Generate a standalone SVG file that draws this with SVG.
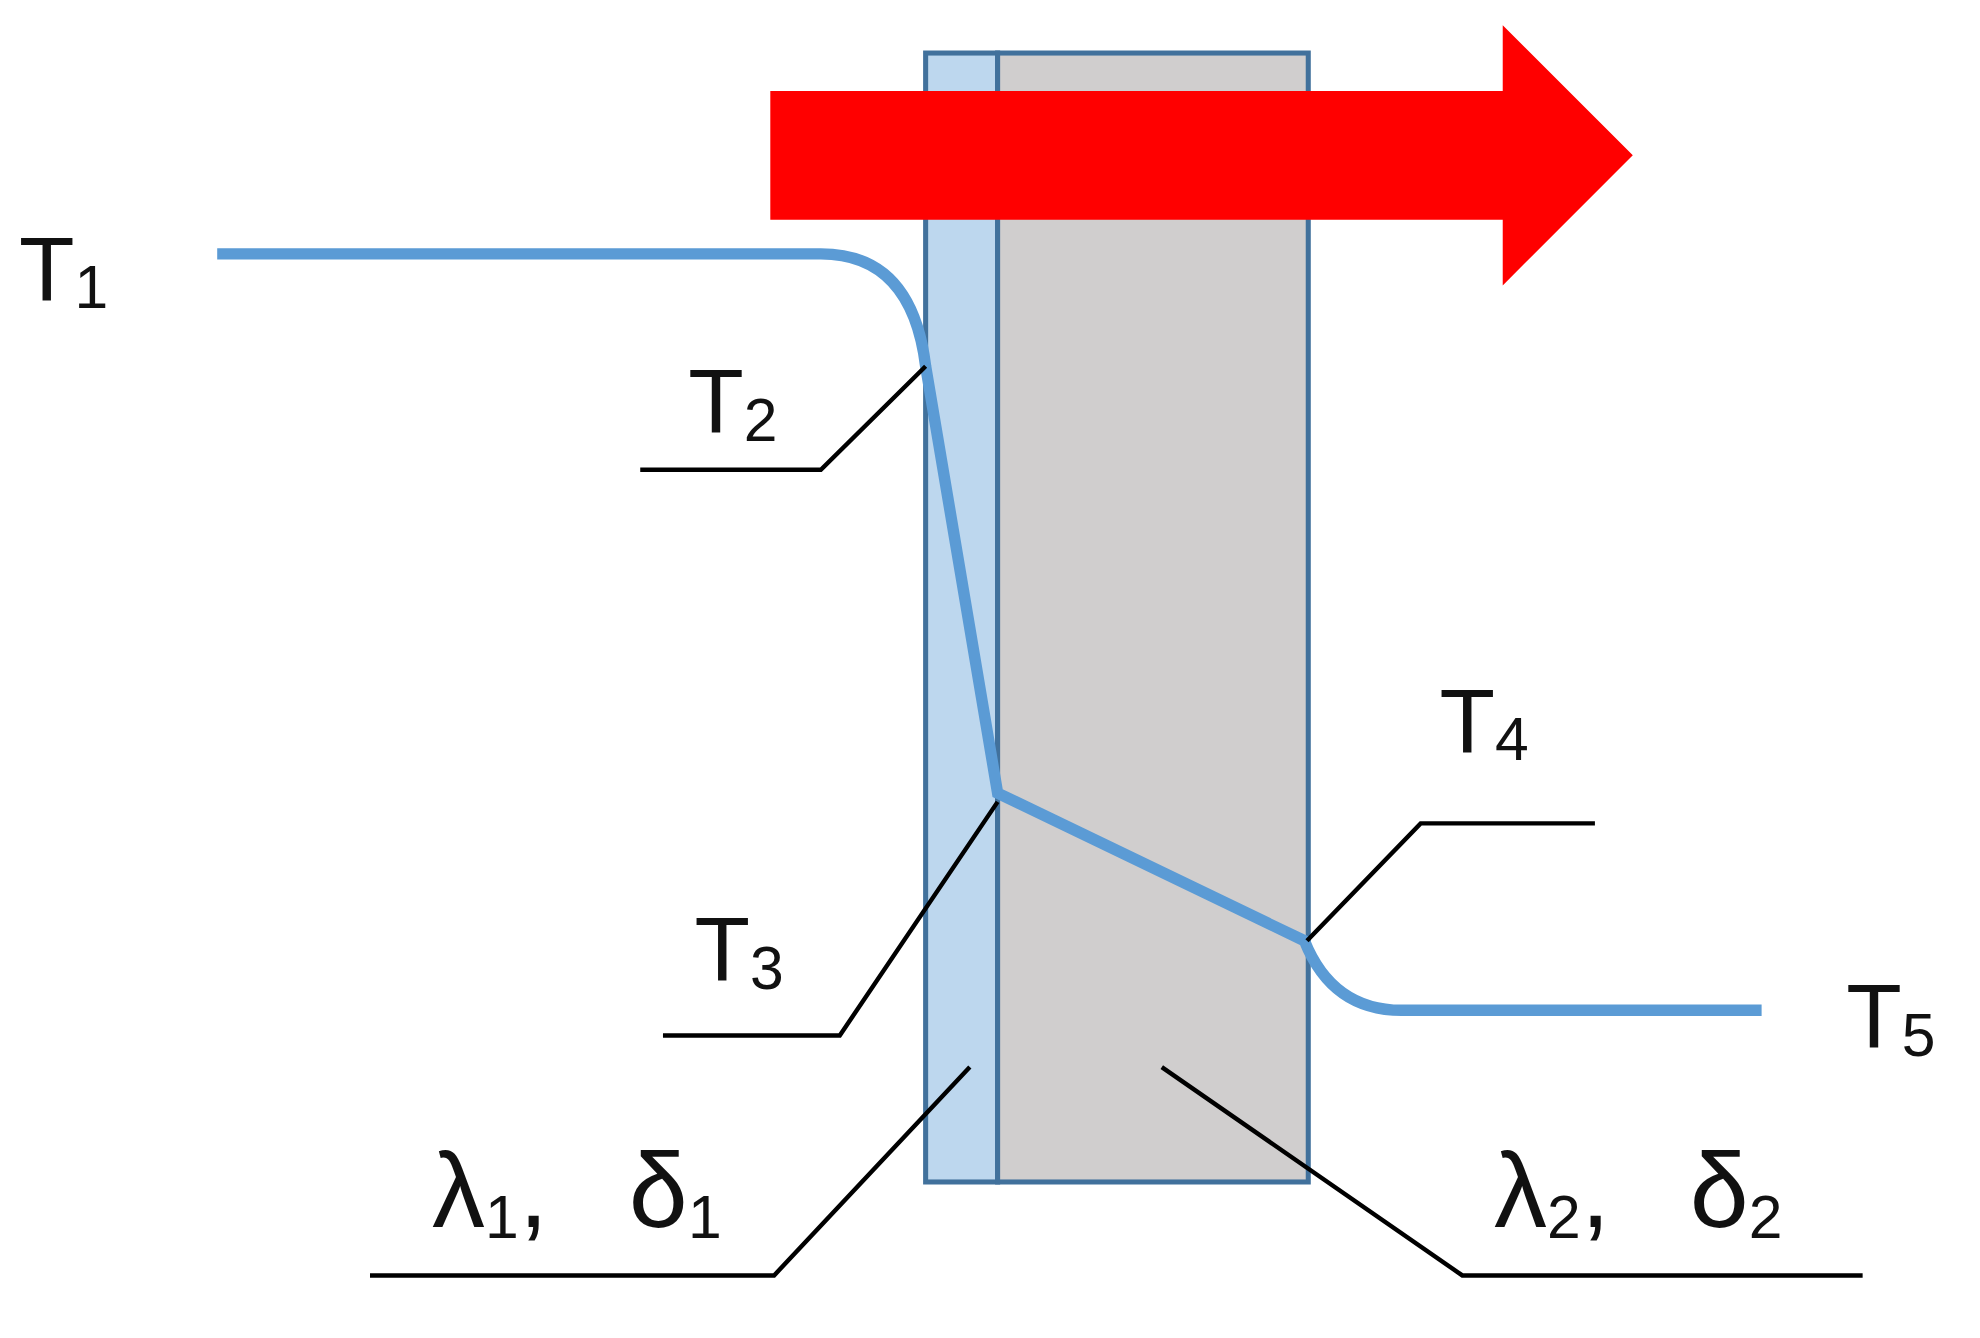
<svg xmlns="http://www.w3.org/2000/svg" width="1980" height="1338" viewBox="0 0 1980 1338">
<style>
.lbl{font-family:"Liberation Sans",sans-serif;font-size:72px;fill:#111}
.gk{font-size:84px}
.sub{font-size:48px}
.lead{fill:none;stroke:#000;stroke-width:3.5}
</style>
<rect width="1980" height="1338" fill="#fff"/>
<g transform="scale(1.2628)">
<g id="layer1"><rect x="733" y="42" width="57" height="894" fill="#bdd7ee" stroke="#41719c" stroke-width="4"/></g>
<g id="layer2"><rect x="790" y="42" width="246" height="894" fill="#d0cece" stroke="#41719c" stroke-width="4"/></g>
<g id="heatflow"><polygon points="610,72 1190,72 1190,20 1293,123 1190,226 1190,174 610,174" fill="#ff0000"/></g>
<g id="connectors">
<path d="M172,201 L650,201 Q722,201 733,290 L790,628 L1033,745 Q1055,800 1110,800 L1395,800" fill="none" stroke="#5b9bd5" stroke-width="9"/>
<polyline class="lead" points="507,372 650,372 733,290"/>
<polyline class="lead" points="525,820 665,820 790,635"/>
<polyline class="lead" points="1035,745 1125,652 1263,652"/>
<polyline class="lead" points="293,1010 613,1010 768,845"/>
<polyline class="lead" points="920,845 1158,1010 1475,1010"/>
</g>
<g id="T1"><text class="lbl" x="15" y="238">T<tspan class="sub" dy="6">1</tspan></text></g>
<g id="T2"><text class="lbl" x="545" y="343">T<tspan class="sub" dy="6">2</tspan></text></g>
<g id="T3"><text class="lbl" x="550" y="777">T<tspan class="sub" dy="6">3</tspan></text></g>
<g id="T4"><text class="lbl" x="1140" y="596">T<tspan class="sub" dy="6">4</tspan></text></g>
<g id="T5"><text class="lbl" x="1462" y="830">T<tspan class="sub" dy="6">5</tspan></text></g>
<g id="L1"><text class="lbl gk" x="342" y="972">λ<tspan class="sub" dy="8">1</tspan><tspan dy="-8">,</tspan><tspan x="498">δ</tspan><tspan class="sub" dy="8">1</tspan></text></g>
<g id="L2"><text class="lbl gk" x="1183" y="972">λ<tspan class="sub" dy="8">2</tspan><tspan dy="-8">,</tspan><tspan x="1338">δ</tspan><tspan class="sub" dy="8">2</tspan></text></g>
</g>
</svg>
